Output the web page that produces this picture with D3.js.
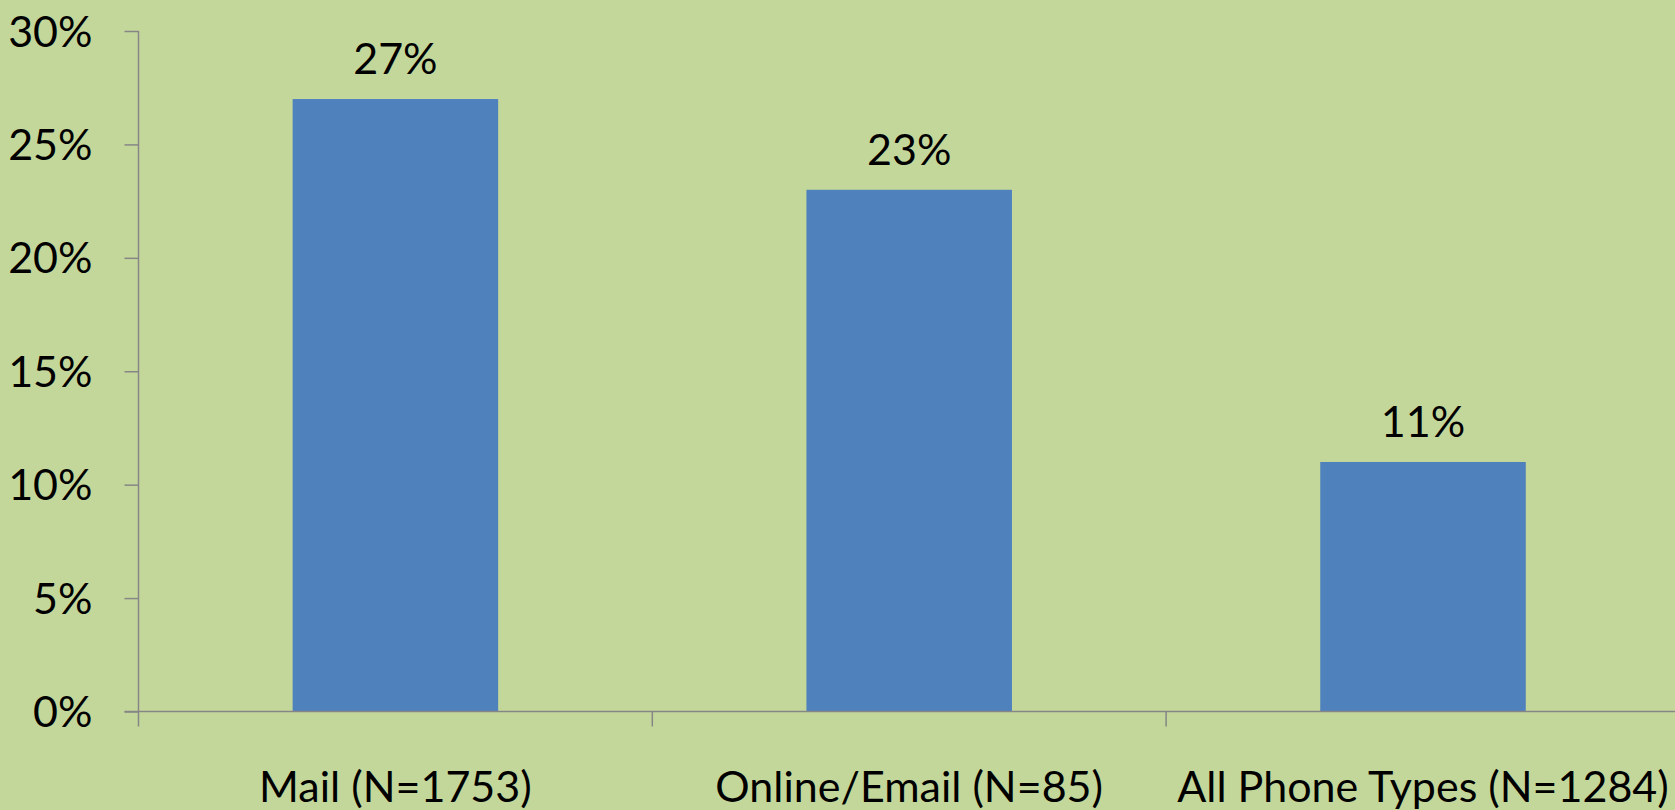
<!DOCTYPE html>
<html>
<head>
<meta charset="utf-8">
<script src="https://cdn.jsdelivr.net/npm/d3@7"></script>
<style>
  html, body { margin: 0; padding: 0; background: #C4D79B; overflow: hidden; }
  svg { display: block; }
  text { font-family: Lato, "Open Sans", sans-serif; fill: #000; }
</style>
</head>
<body>
<svg id="chart" width="1675" height="810"></svg>
<script>
const categories = ["Mail (N=1753)", "Online/Email (N=85)", "All Phone Types (N=1284)"];
const values = [0.27, 0.23, 0.11];
const valueLabels = ["27%", "23%", "11%"];
const yTicks = [0, 0.05, 0.10, 0.15, 0.20, 0.25, 0.30];

(function () {
const W = 1675, H = 810;
const svg = d3.select("#chart");
svg.append("rect").attr("width", W).attr("height", H).attr("fill", "#C4D79B");

const plotLeft = 138.5, plotBottom = 711.5, plotTop = 31;
const step = 513.8;
const x = d3.scaleBand().domain(categories)
  .range([plotLeft, plotLeft + step * categories.length])
  .paddingInner(0.6).paddingOuter(0.3);
const y = d3.scaleLinear().domain([0, 0.30]).range([plotBottom, plotTop]);

const axisColor = "#868686";
const fontSize = 43;

// bars
svg.selectAll("rect.bar").data(categories).join("rect")
  .attr("class", "bar")
  .attr("x", d => x(d))
  .attr("width", x.bandwidth())
  .attr("y", (d, i) => y(values[i]))
  .attr("height", (d, i) => y(0) - y(values[i]))
  .attr("fill", "#4F81BD");

// value labels
svg.selectAll("text.val").data(categories).join("text")
  .attr("class", "val")
  .attr("x", d => x(d) + x.bandwidth() / 2)
  .attr("y", (d, i) => y(values[i]) - 25)
  .attr("text-anchor", "middle")
  .attr("font-size", fontSize)
  .text((d, i) => valueLabels[i]);

// y axis
const yAxis = d3.axisLeft(y).tickValues(yTicks).tickSize(14).tickPadding(32)
  .tickFormat(d3.format(".0%"));
const gy = svg.append("g").attr("transform", `translate(${plotLeft},0)`).call(yAxis);
gy.select(".domain").attr("d", `M0,${plotTop}V${plotBottom}`).attr("stroke", axisColor).attr("stroke-width", 1.5);
gy.selectAll(".tick line").attr("stroke", axisColor).attr("stroke-width", 1.5);
gy.selectAll(".tick text").attr("font-size", fontSize).attr("font-family", "Lato, 'Open Sans', sans-serif")
  .attr("fill", "#000").attr("dy", "0.35em");

// x axis line
const xEnd = plotLeft + step * categories.length;
svg.append("path").attr("d", `M${plotLeft - 14},${plotBottom}H${xEnd}`)
  .attr("stroke", axisColor).attr("stroke-width", 1.5).attr("fill", "none");
// category boundary ticks
const boundaries = d3.range(categories.length + 1).map(i => plotLeft + i * x.step());
svg.selectAll("line.xt").data(boundaries).join("line")
  .attr("class", "xt")
  .attr("x1", d => d).attr("x2", d => d)
  .attr("y1", plotBottom).attr("y2", plotBottom + 15)
  .attr("stroke", axisColor).attr("stroke-width", 1.5);

// category labels
svg.selectAll("text.cat").data(categories).join("text")
  .attr("class", "cat")
  .attr("x", d => x(d) + x.bandwidth() / 2)
  .attr("y", 801.5)
  .attr("text-anchor", "middle")
  .attr("font-size", fontSize)
  .text(d => d);
})();
</script>
</body>
</html>
